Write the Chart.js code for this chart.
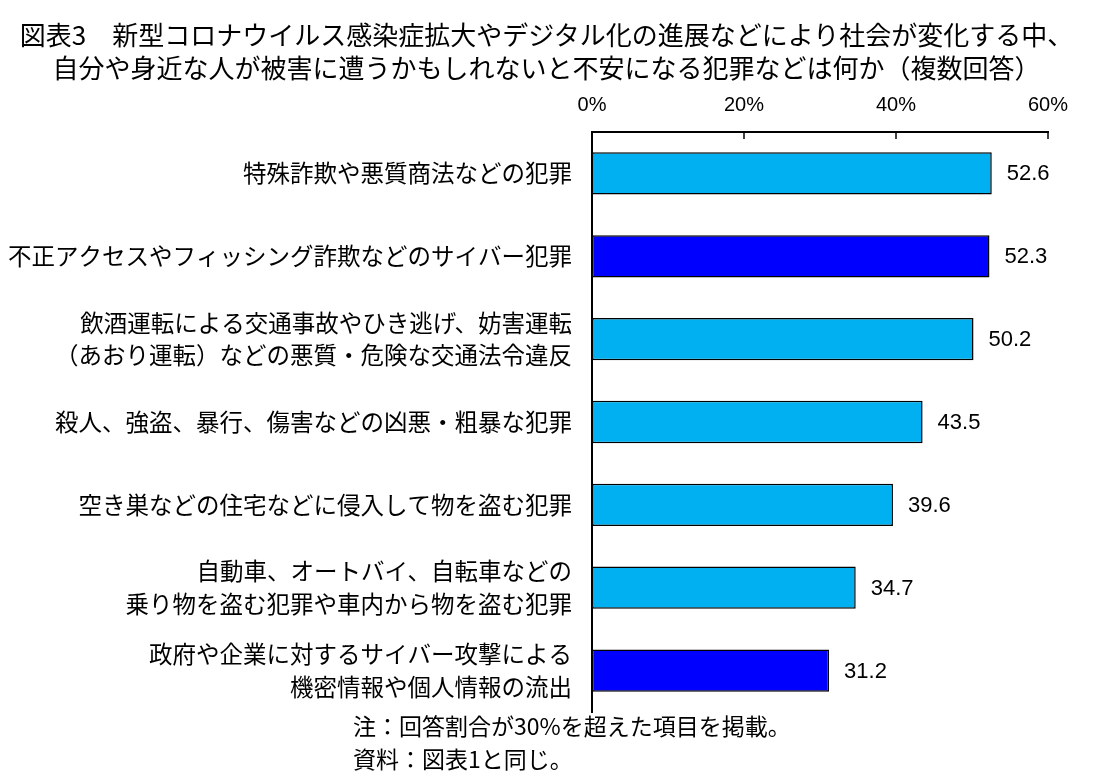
<!DOCTYPE html>
<html>
<head>
<meta charset="utf-8">
<script src="https://cdn.jsdelivr.net/npm/chart.js@4"></script>
<style>
html,body{margin:0;padding:0;background:#fff;}
#wrap{position:relative;width:1093px;height:781px;}
.title{position:absolute;left:0;width:1093px;text-align:center;font-family:"Noto Sans CJK JP",sans-serif;font-size:26px;color:#000;line-height:1;white-space:nowrap;}
.note{position:absolute;left:353px;font-family:"Noto Sans CJK JP",sans-serif;font-size:23px;color:#000;line-height:1;white-space:nowrap;}
</style>
</head>
<body>
<div id="wrap">
<canvas id="crimeChart" width="1093" height="781"></canvas>
<div class="title" id="t1" style="top:21px"></div>
<div class="title" id="t2" style="top:54px"></div>
<div class="note" style="top:714px">注：回答割合が30%を超えた項目を掲載。</div>
<div class="note" style="top:747px">資料：図表1と同じ。</div>
</div>
<script>
const titleLines = [
"図表3　新型コロナウイルス感染症拡大やデジタル化の進展などにより社会が変化する中、",
"自分や身近な人が被害に遭うかもしれないと不安になる犯罪などは何か（複数回答）"
]

const categories = [
["特殊詐欺や悪質商法などの犯罪"],
["不正アクセスやフィッシング詐欺などのサイバー犯罪"],
["飲酒運転による交通事故やひき逃げ、妨害運転","（あおり運転）などの悪質・危険な交通法令違反"],
["殺人、強盗、暴行、傷害などの凶悪・粗暴な犯罪"],
["空き巣などの住宅などに侵入して物を盗む犯罪"],
["自動車、オートバイ、自転車などの","乗り物を盗む犯罪や車内から物を盗む犯罪"],
["政府や企業に対するサイバー攻撃による","機密情報や個人情報の流出"]
]

const values = [52.6, 52.3, 50.2, 43.5, 39.6, 34.7, 31.2]

const cyberFlags = [false, true, false, false, false, false, true]

const xTicks = [0, 20, 40, 60]

const lightBlue = "#00B0F0"
const darkBlue = "#0000FF"

document.getElementById("t1").innerText = titleLines[0]
document.getElementById("t2").innerText = titleLines[1]

// short tick marks pointing down into the plot, like the original
const innerTicks = {
id:"innerTicks",
afterDraw(chart){
const ctx = chart.ctx
const x = chart.scales.x
const top = chart.chartArea.top
ctx.save()
ctx.strokeStyle = "#000"
ctx.lineWidth = 1.5
xTicks.forEach(v=>{
const px = x.getPixelForValue(v)
ctx.beginPath()
ctx.moveTo(px, top)
ctx.lineTo(px, top + 7)
ctx.stroke()
})
ctx.restore()
}
}

const valueLabels = {
id:"valueLabels",
afterDatasetsDraw(chart){
const ctx = chart.ctx
const meta = chart.getDatasetMeta(0)
ctx.save()
ctx.fillStyle = "#000"
ctx.font = "22px 'Liberation Sans', sans-serif"
ctx.textAlign = "left"
ctx.textBaseline = "middle"
meta.data.forEach((bar,i)=>{
ctx.fillText(values[i].toFixed(1), bar.x + 15, bar.y + 1)
})
ctx.restore()
}
}

const ctx = document.getElementById("crimeChart")

new Chart(ctx,{
type:"bar",
data:{
labels:categories,
datasets:[
{
data:values,
backgroundColor:cyberFlags.map(f=>f ? darkBlue : lightBlue),
borderColor:"#000",
borderWidth:1.5,
borderSkipped:false,
barPercentage:0.51,
categoryPercentage:1
}
]
},
options:{
indexAxis:"y",
responsive:false,
animation:false,
devicePixelRatio:1,
layout:{padding:{left:0,right:45,top:84,bottom:69}},
plugins:{
legend:{display:false},
tooltip:{enabled:false},
title:{display:false}
},
scales:{
x:{
position:"top",
min:0,
max:60,
afterBuildTicks(scale){
scale.ticks = xTicks.map(v=>({value:v}))
},
afterFit(scale){
scale.height = 48
},
grid:{display:false,drawTicks:false},
border:{display:true,color:"#000",width:2},
ticks:{
padding:15,
color:"#000",
font:{family:"'Liberation Sans', sans-serif",size:20},
callback:v=>v+"%",
maxRotation:0
}
},
y:{
afterFit(scale){
scale.width = 592
},
grid:{display:false,drawTicks:false},
border:{display:true,color:"#000",width:2},
ticks:{
padding:20,
color:"#000",
font:{family:"'Noto Sans CJK JP', sans-serif",size:23.5,lineHeight:1.38}
}
}
}
},
plugins:[innerTicks,valueLabels]
})
</script>
</body>
</html>
